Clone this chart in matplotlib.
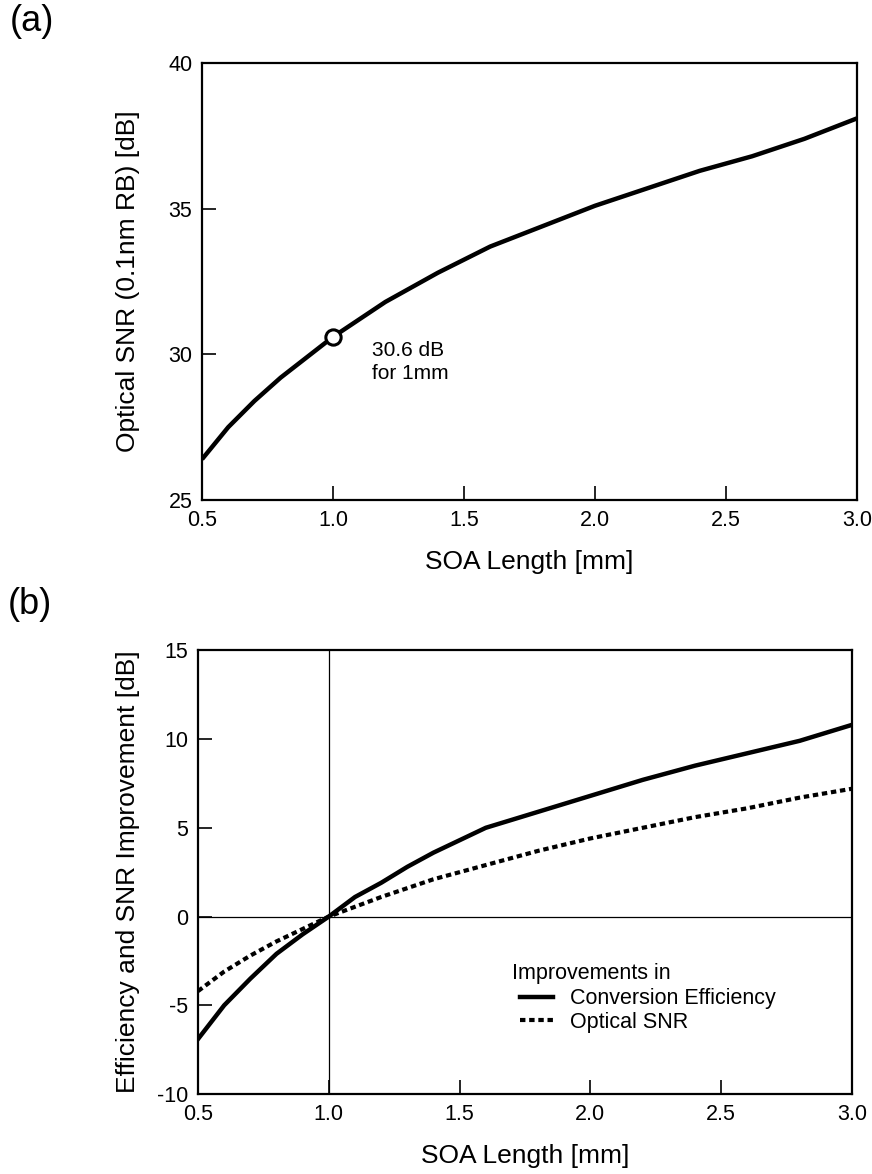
import matplotlib.pyplot as plt
import numpy as np

plt.rcParams['font.family'] = ['Liberation Sans', 'DejaVu Sans']
plt.rcParams['axes.unicode_minus'] = False

# panel (a): optical SNR vs SOA length
length_a = [0.5, 0.6, 0.7, 0.8, 0.9, 1.0, 1.2, 1.4, 1.6, 1.8, 2.0, 2.2, 2.4, 2.6, 2.8, 3.0]
osnr = [26.4, 27.5, 28.4, 29.2, 29.9, 30.6, 31.8, 32.8, 33.7, 34.4, 35.1, 35.7, 36.3, 36.8, 37.4, 38.1]
mark_len = [1.0]
mark_osnr = [30.6]

# panel (b): improvements relative to 1 mm
length_b = [0.5, 0.6, 0.7, 0.8, 0.9, 1.0, 1.1, 1.2, 1.3, 1.4, 1.5, 1.6, 1.8, 2.0, 2.2, 2.4, 2.6, 2.8, 3.0]
conv_eff = [-6.9, -5.0, -3.5, -2.1, -1.0, 0.0, 1.1, 1.9, 2.8, 3.6, 4.3, 5.0, 5.9, 6.8, 7.7, 8.5, 9.2, 9.9, 10.8]
snr_imp = [-4.2, -3.1, -2.2, -1.4, -0.7, 0.0, 0.55, 1.1, 1.6, 2.1, 2.5, 2.9, 3.7, 4.4, 5.0, 5.6, 6.1, 6.7, 7.2]

x_ticks = [0.5, 1.0, 1.5, 2.0, 2.5, 3.0]

fig = plt.figure(figsize=(8.72, 11.74), dpi=100)
ax1 = fig.add_axes([0.2317, 0.5741, 0.751, 0.3722])
ax2 = fig.add_axes([0.2271, 0.0681, 0.750, 0.378])

for ax in (ax1, ax2):
    for s in ax.spines.values():
        s.set_linewidth(1.6)
    ax.tick_params(direction='in', length=10, width=1.2, labelsize=15.5, pad=7)
    ax.set_xlim(0.5, 3.0)
    ax.set_xticks(x_ticks)
    ax.set_xticklabels([f"{v:.1f}" for v in x_ticks])
    ax.set_xlabel("SOA Length [mm]", fontsize=19, labelpad=14)

# (a)
ax1.plot(length_a, osnr, color='black', lw=3.2, solid_capstyle='butt')
ax1.plot(mark_len, mark_osnr, 'o', ms=11, mfc='white', mec='black', mew=2.2, zorder=5)
ax1.text(1.15, 29.75, "30.6 dB\nfor 1mm", fontsize=15, ha='left', va='center', linespacing=1.25)
ax1.set_ylim(25, 40)
ax1.set_yticks([25, 30, 35, 40])
ax1.set_ylabel("Optical SNR (0.1nm RB) [dB]", fontsize=19, labelpad=20)

# (b)
ax2.axvline(1.0, color='black', lw=0.9)
ax2.axhline(0.0, color='black', lw=0.9)
ax2.plot(length_b, conv_eff, color='black', lw=3.2, label="Conversion Efficiency")
ax2.plot(length_b, snr_imp, color='black', lw=3.0, linestyle=(0, (1.3, 0.9)), label="Optical SNR")
ax2.set_ylim(-10, 15)
ax2.set_yticks([-10, -5, 0, 5, 10, 15])
ax2.set_ylabel("Efficiency and SNR Improvement [dB]", fontsize=19, labelpad=12)
ax2.legend(loc='upper left', bbox_to_anchor=(0.493, 0.238), frameon=False,
           fontsize=15.5, handlelength=1.5, handletextpad=0.8, labelspacing=0.1,
           borderpad=0, borderaxespad=0)
ax2.text(0.48, 0.272, "Improvements in", transform=ax2.transAxes, fontsize=15.5,
         ha='left', va='center')

fig.text(0.011, 0.982, "(a)", fontsize=26, ha='left', va='center')
fig.text(0.009, 0.485, "(b)", fontsize=26, ha='left', va='center')

fig.savefig("out.png", dpi=100)
